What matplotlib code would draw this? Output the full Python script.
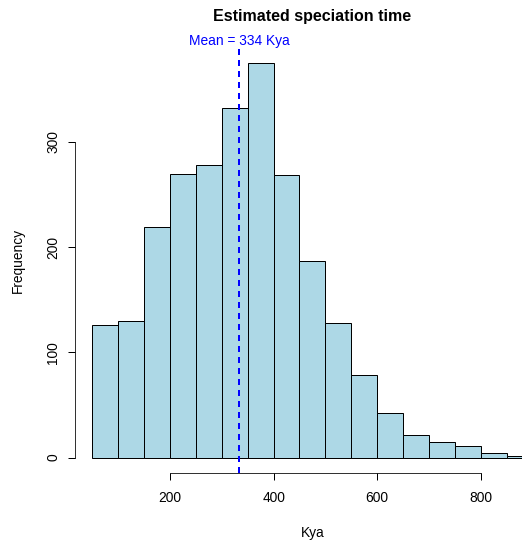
import numpy as np
import matplotlib
matplotlib.use("Agg")
import matplotlib.pyplot as plt
from matplotlib.transforms import blended_transform_factory

plt.rcParams['font.family'] = ['Liberation Sans', 'DejaVu Sans']

# Histogram of estimated speciation times (Kya)
bin_edges = list(range(50, 901, 50))
counts = [126, 130, 219, 269, 278, 332, 375, 268, 187, 128, 78, 42, 21, 15, 11, 4, 2]
mean_kya = 334
x_ticks = [200, 400, 600, 800]
y_ticks = [0, 100, 200, 300]

W, H, DPI = 522, 540, 72
fig = plt.figure(figsize=(W / DPI, H / DPI), dpi=DPI)

# plot region in pixels (R-style 4% padding beyond data range)
x0, x1 = 74.8, 550.0
y_top, y_bot = 47.0, 473.4
ax = fig.add_axes([x0 / W, 1 - y_bot / H, (x1 - x0) / W, (y_bot - y_top) / H])

lefts = np.array(bin_edges[:-1])
widths = np.diff(bin_edges)
ax.bar(lefts, counts, width=widths, align='edge', color='#ADD8E6',
       edgecolor='black', linewidth=1)

xmin, xmax = bin_edges[0], bin_edges[-1]
pad_x = 0.04 * (xmax - xmin)
ymax = max(counts)
pad_y = 0.04 * ymax
ax.set_xlim(xmin - pad_x, xmax + pad_x)
ax.set_ylim(-pad_y, ymax + pad_y)

ax.axvline(mean_kya, color='#0000FF', linewidth=2, linestyle=(0, (3, 2.5)))

for s in ['top', 'right']:
    ax.spines[s].set_visible(False)
ax.spines['left'].set_bounds(y_ticks[0], y_ticks[-1])
ax.spines['bottom'].set_bounds(x_ticks[0], x_ticks[-1])
ax.set_xticks(x_ticks)
ax.set_yticks(y_ticks)
ax.set_yticklabels([str(v) for v in y_ticks], rotation=90, va='center')
ax.tick_params(axis='both', direction='out', length=7, width=1, labelsize=13.7)
ax.tick_params(axis='x', pad=11)
ax.tick_params(axis='y', pad=7.5)

ax.set_xlabel('Kya', fontsize=13.7, labelpad=21)
ax.set_ylabel('Frequency', fontsize=13.7, labelpad=21)
ax.set_title('Estimated speciation time', fontsize=16, fontweight='bold', pad=26)

trans = blended_transform_factory(ax.transData, ax.transAxes)
ax.text(mean_kya, 1.0 + 6.0 / (y_bot - y_top), f'Mean = {mean_kya} Kya',
        transform=trans, color='#0000FF', fontsize=13.7, ha='center', va='center')

fig.savefig('out.png', dpi=DPI)
